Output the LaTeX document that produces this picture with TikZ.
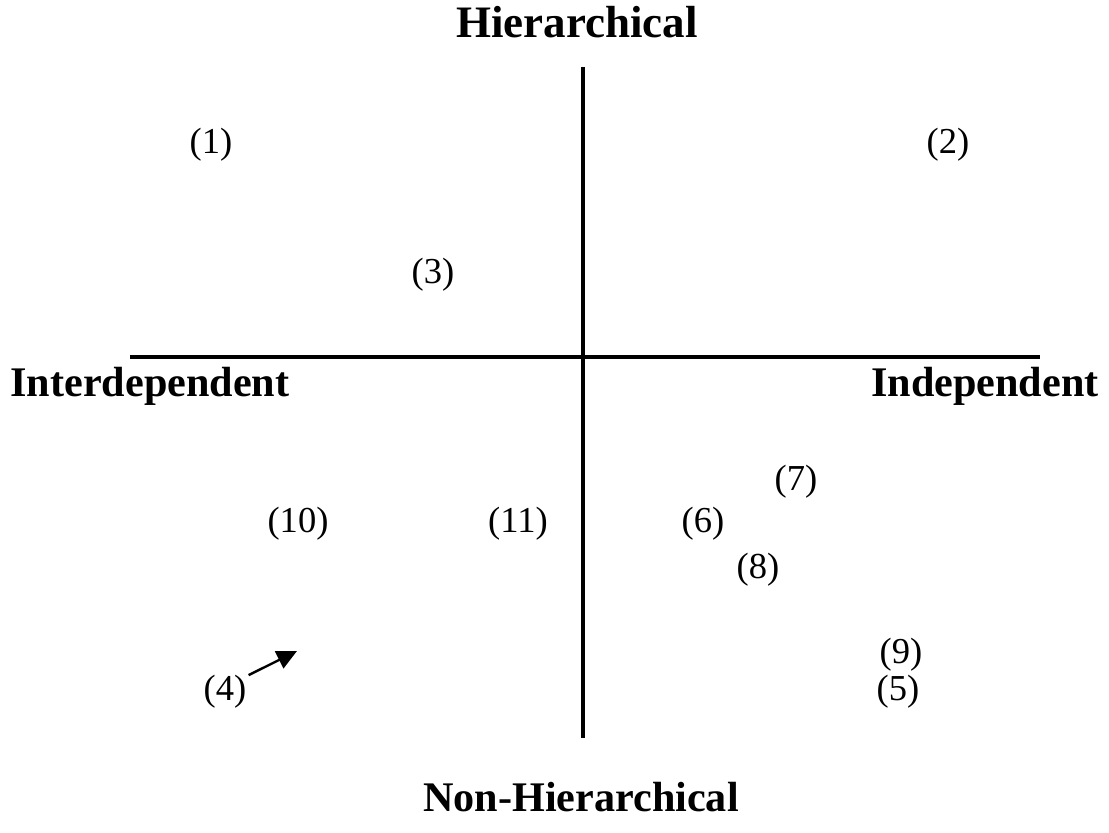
\documentclass[tikz,border=0pt]{standalone}
\usepackage{fontspec}
\setmainfont{Liberation Serif}
\usetikzlibrary{arrows.meta}

\begin{document}
\begin{tikzpicture}
    \tikzstyle{axis}  = [line width=2.8pt,draw=black]
    \tikzstyle{dedge} = [line width=1.7pt,-{Triangle[length=0.5cm,width=0.47cm]},draw=black]
    \tikzstyle{pole}=[
      font=\fontsize{30}{34}\selectfont\bfseries,
      anchor=center,
      inner sep=0pt,
    ]
    \tikzstyle{item}=[
      font=\fontsize{26}{30}\selectfont,
      anchor=center,
      inner sep=0pt,
    ]

    \useasboundingbox (0,0) rectangle (27.725,20.8);
    \coordinate (origin) at (14.575,11.875);

    % axes
    {
      \coordinate (axisN) at ([xshift=0cm, yshift=7.25cm] origin);
      \coordinate (axisS) at ([xshift=0cm, yshift=-9.525cm] origin);
      \coordinate (axisW) at ([xshift=-11.325cm, yshift=0cm] origin);
      \coordinate (axisE) at ([xshift=11.425cm, yshift=0cm] origin);

      \draw[axis] (axisN)--(axisS);
      \draw[axis] (axisW)--(axisE);

      \node[pole, font=\fontsize{32}{36}\selectfont\bfseries] (hier) at ([xshift=-0.15cm, yshift=8.375cm] origin) {Hierarchical};
      \node[pole] (nonhier) at ([xshift=-0.05cm, yshift=-11.0cm] origin) {Non-Hierarchical};
      \node[pole] (interdep) at ([xshift=-10.825cm, yshift=-0.725cm] origin) {Interdependent};
      \node[pole] (indep) at ([xshift=10.05cm, yshift=-0.725cm] origin) {Independent};
    }

    % numbered cases
    {
      \node[item] (item1) at ([xshift=-9.3cm, yshift=5.3cm] origin) {(1)};
      \node[item] (item2) at ([xshift=9.125cm, yshift=5.3cm] origin) {(2)};
      \node[item] (item3) at ([xshift=-3.75cm, yshift=2.05cm] origin) {(3)};

      \node[item] (item10) at ([xshift=-7.125cm, yshift=-4.175cm] origin) {(10)};
      \node[item] (item11) at ([xshift=-1.625cm, yshift=-4.175cm] origin) {(11)};
      \node[item] (item4) at ([xshift=-8.95cm, yshift=-8.375cm] origin) {(4)};

      \node[item] (item6) at ([xshift=3.0cm, yshift=-4.175cm] origin) {(6)};
      \node[item] (item7) at ([xshift=5.325cm, yshift=-3.125cm] origin) {(7)};
      \node[item] (item8) at ([xshift=4.375cm, yshift=-5.325cm] origin) {(8)};
      \node[item] (item9) at ([xshift=7.95cm, yshift=-7.45cm] origin) {(9)};
      \node[item] (item5) at ([xshift=7.875cm, yshift=-8.375cm] origin) {(5)};

      \coordinate (tip4) at ([xshift=-7.15cm, yshift=-7.35cm] origin);
      \draw[dedge] ([xshift=0.05cm] item4.north east)--(tip4);
    }
\end{tikzpicture}
\end{document}
